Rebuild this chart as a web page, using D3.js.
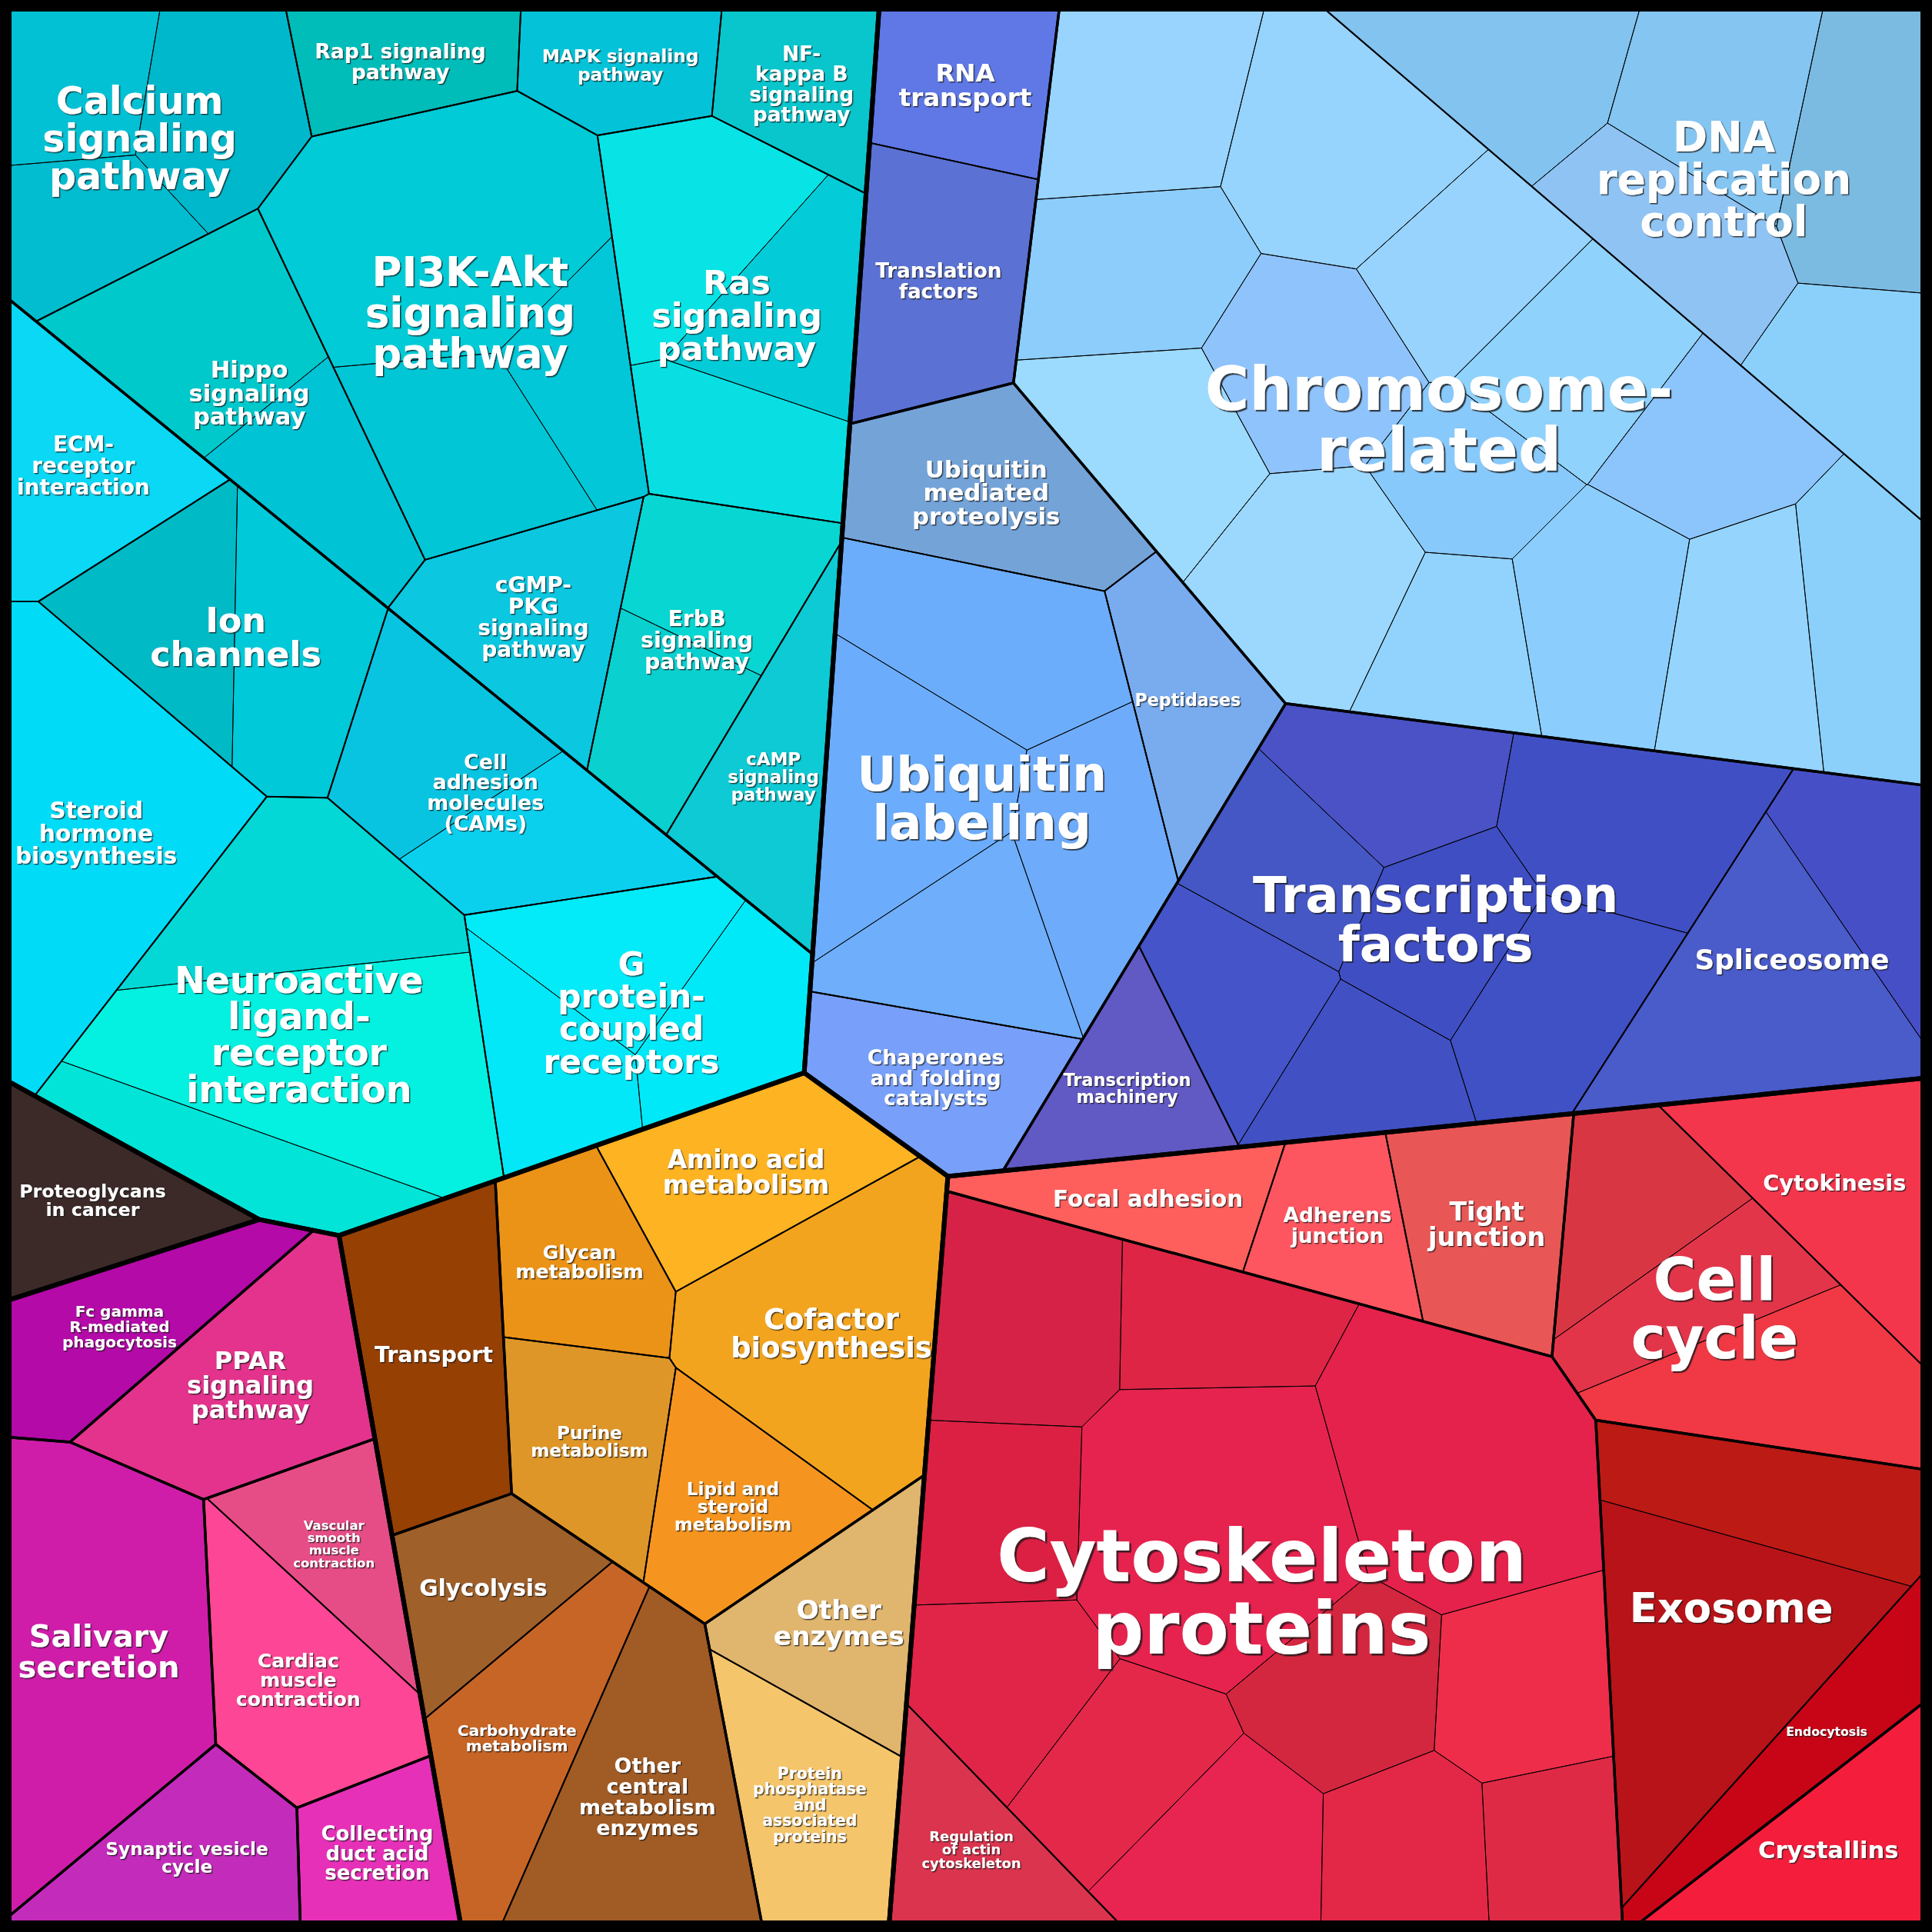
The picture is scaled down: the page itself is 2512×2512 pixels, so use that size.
<!DOCTYPE html>
<html>
<head>
<meta charset="utf-8">
<script src="https://cdn.jsdelivr.net/npm/d3@7"></script>
<style>
html,body{margin:0;padding:0;background:#000;}
svg{display:block;}
</style>
</head>
<body>
<svg id="chart" width="2512" height="2512"></svg>
<script>
// ---------------- DATA ----------------
// Category hierarchy: [name, parent]
const GROUPS = [
  ["Signaling", "root"],
  ["Signal transduction", "Signaling"],
  ["Signaling molecules", "Signaling"],
  ["Organismal systems", "root"],
  ["Muscle contraction", "Organismal systems"],
  ["Metabolism", "root"],
  ["Biosynthesis", "Metabolism"],
  ["Central metabolism", "Metabolism"],
  ["Enzymes", "Metabolism"],
  ["Genetic information", "root"],
  ["Translation", "Genetic information"],
  ["Folding and degradation", "Genetic information"],
  ["Replication", "Genetic information"],
  ["Transcription", "Genetic information"],
  ["Cellular processes", "root"],
  ["Cell junctions", "Cellular processes"],
  ["Cytoskeleton", "Cellular processes"],
  ["Cell growth", "Cellular processes"],
  ["Vesicles", "Cellular processes"]
];

// Pathways (labelled cells): [label, parent]
const PATHWAYS = [
  ["Calcium\nsignaling\npathway", "Signal transduction"],
  ["Rap1 signaling\npathway", "Signal transduction"],
  ["MAPK signaling\npathway", "Signal transduction"],
  ["NF-\nkappa B\nsignaling\npathway", "Signal transduction"],
  ["PI3K-Akt\nsignaling\npathway", "Signal transduction"],
  ["Ras\nsignaling\npathway", "Signal transduction"],
  ["Hippo\nsignaling\npathway", "Signal transduction"],
  ["cGMP-\nPKG\nsignaling\npathway", "Signal transduction"],
  ["ErbB\nsignaling\npathway", "Signal transduction"],
  ["cAMP\nsignaling\npathway", "Signal transduction"],
  ["ECM-\nreceptor\ninteraction", "Signaling molecules"],
  ["Ion\nchannels", "Signaling molecules"],
  ["Steroid\nhormone\nbiosynthesis", "Signaling molecules"],
  ["Cell\nadhesion\nmolecules\n(CAMs)", "Signaling molecules"],
  ["Neuroactive\nligand-\nreceptor\ninteraction", "Signaling molecules"],
  ["G\nprotein-\ncoupled\nreceptors", "Signaling molecules"],
  ["Proteoglycans\nin cancer", "root"],
  ["Fc gamma\nR-mediated\nphagocytosis", "Organismal systems"],
  ["PPAR\nsignaling\npathway", "Organismal systems"],
  ["Vascular\nsmooth\nmuscle\ncontraction", "Muscle contraction"],
  ["Cardiac\nmuscle\ncontraction", "Muscle contraction"],
  ["Salivary\nsecretion", "Organismal systems"],
  ["Synaptic vesicle\ncycle", "Organismal systems"],
  ["Collecting\nduct acid\nsecretion", "Organismal systems"],
  ["Transport", "Metabolism"],
  ["Glycan\nmetabolism", "Biosynthesis"],
  ["Amino acid\nmetabolism", "Biosynthesis"],
  ["Cofactor\nbiosynthesis", "Biosynthesis"],
  ["Purine\nmetabolism", "Biosynthesis"],
  ["Lipid and\nsteroid\nmetabolism", "Biosynthesis"],
  ["Glycolysis", "Central metabolism"],
  ["Carbohydrate\nmetabolism", "Central metabolism"],
  ["Other\ncentral\nmetabolism\nenzymes", "Central metabolism"],
  ["Other\nenzymes", "Enzymes"],
  ["Protein\nphosphatase\nand\nassociated\nproteins", "Enzymes"],
  ["RNA\ntransport", "Translation"],
  ["Translation\nfactors", "Translation"],
  ["Ubiquitin\nmediated\nproteolysis", "Folding and degradation"],
  ["Ubiquitin\nlabeling", "Folding and degradation"],
  ["Peptidases", "Folding and degradation"],
  ["Chaperones\nand folding\ncatalysts", "Folding and degradation"],
  ["Chromosome-\nrelated", "Replication"],
  ["DNA\nreplication\ncontrol", "Replication"],
  ["Transcription\nfactors", "Transcription"],
  ["Spliceosome", "Transcription"],
  ["Transcription\nmachinery", "Transcription"],
  ["Focal adhesion", "Cell junctions"],
  ["Adherens\njunction", "Cell junctions"],
  ["Tight\njunction", "Cell junctions"],
  ["Cytoskeleton\nproteins", "Cytoskeleton"],
  ["Regulation\nof actin\ncytoskeleton", "Cytoskeleton"],
  ["Cell\ncycle", "Cell growth"],
  ["Cytokinesis", "Cell growth"],
  ["Exosome", "Vesicles"],
  ["Endocytosis", "Vesicles"],
  ["Crystallins", "Cellular processes"]
];

// Protein-share values of each (sub)cell, per pathway (same order as PATHWAYS)
const CELL_VALUES = [
  [13.7, 19.3, 14.3], [15.3], [14.5], [15.2], [46.1, 14.4, 21.3], [21.7, 17.6, 16.5],
  [24.6, 16.3], [23.6], [17.0, 14.4], [21.0],
  [23.1], [18.9, 21.3], [46.1], [19.6, 17.7], [25.1, 44.3, 16.2], [15.8, 16.7, 16.1],
  [17.9],
  [20.7], [28.5], [15.0], [25.4], [48.8], [20.5], [13.9],
  [28.9], [18.4], [23.8], [39.7], [19.5], [20.0], [17.1], [24.7], [33.4], [20.7], [22.4],
  [17.6], [26.4], [27.1], [25.7, 21.8, 26.4, 19.3], [18.8], [20.7],
  [23.4, 28.7, 22.0, 22.0, 18.5, 20.4, 15.4, 18.4, 22.0, 21.7, 22.4, 15.7, 24.9, 21.7],
  [20.5, 20.5, 23.0, 19.4, 17.2],
  [17.5, 25.5, 15.6, 16.7, 20.8, 14.9, 17.0], [15.2, 34.5], [16.4],
  [15.4], [14.7], [22.5],
  [24.9, 17.0, 43.0, 45.9, 18.6, 18.8, 18.5, 19.2, 19.8, 19.9, 16.3, 13.4], [16.5],
  [16.7, 15.4, 24.3], [25.0], [21.2, 41.1], [15.6], [20.4]
];

// Layout seed hints for the Voronoi treemap sub-cells (reference units, 0-1568)
const CELL_SEEDS = [
  [[62,72],[180,92],[72,192]], [[333,50]], [[500,62]], [[650,78]],
  [[362,188],[480,305],[378,370]], [[568,162],[650,235],[606,365]],
  [[168,277],[272,405]], [[417,500]], [[598,465],[538,590]], [[629,632]],
  [[60,408]], [[145,510],[250,512]], [[78,682]], [[350,600],[420,706]],
  [[236.5,735],[250,860],[216,955]], [[445,850],[505,770],[596,835]],
  [[75,974]],
  [[92,1085]], [[205,1115]], [[271,1254]], [[250,1378]], [[85,1335]], [[148,1508]], [[302,1505]],
  [[355,1108]], [[480,1025]], [[610,948]], [[668,1085]], [[480,1175]], [[600,1230]],
  [[400,1288]], [[435,1420]], [[540,1455]], [[665,1305]], [[672,1475]],
  [[785,68]], [[767,238]], [[810,395]], [[814,502],[891,670],[730,640],[776,710]], [[965,560]], [[745,870]],
  [[915,62],[1090,105],[925,205],[1060,290],[1185,210],[1265,290],[1190,390],[1370,370],[1515,510],[1420,520],[1300,500],[1180,520],[1075,470],[935,358]],
  [[1225,62],[1395,110],[1512,135],[1340,200],[1498,310]],
  [[1125,628],[1310,662],[1052,705],[1172,757],[1268,818],[1110,868],[1000,800]],
  [[1520,708],[1400,790]], [[916,883]],
  [[903,965]], [[1081,991]], [[1203,1003]],
  [[825,1075],[985,1078],[1185,1185],[988,1240],[818,1235],[822,1362],[922,1438],[985,1500],[1090,1362],[1236,1370],[1145,1503],[1262,1497]],
  [[793,1502]],
  [[1322,965],[1393,1065],[1430,1155]], [[1489,961]], [[1428,1215],[1390,1352]], [[1450,1438]], [[1484,1502]]
];

// Site positions of groups / pathways in the power diagram (reference units)
const SEED_OVERRIDES = [
  ["Signaling",340,440],["Genetic information",1150,497],["Metabolism",618,1235],
  ["Cellular processes",1229,1283],["Organismal systems",165,1315],["Proteoglycans\nin cancer",52,963],
  ["Signal transduction",430,230],["Signaling molecules",104,630],
  ["Calcium\nsignaling\npathway",120,73.5],["Rap1 signaling\npathway",319.6,32.8],
  ["MAPK signaling\npathway",491.6,40.5],["NF-\nkappa B\nsignaling\npathway",618.6,52.3],
  ["PI3K-Akt\nsignaling\npathway",370,260],["Ras\nsignaling\npathway",525.1,237.7],
  ["Hippo\nsignaling\npathway",245,319.5],["cGMP-\nPKG\nsignaling\npathway",427.6,459.9],
  ["ErbB\nsignaling\npathway",489.4,472.7],["cAMP\nsignaling\npathway",639.4,562.4],
  ["ECM-\nreceptor\ninteraction",78,331],["Ion\nchannels",206,532],
  ["Steroid\nhormone\nbiosynthesis",78,682],["Cell\nadhesion\nmolecules\n(CAMs)",367.2,583.6],
  ["Neuroactive\nligand-\nreceptor\ninteraction",201,777.5],["G\nprotein-\ncoupled\nreceptors",392.3,748.6],
  ["Fc gamma\nR-mediated\nphagocytosis",105.6,1010.7],["PPAR\nsignaling\npathway",180.3,1096.6],
  ["Muscle contraction",260,1321],["Salivary\nsecretion",80,1330],
  ["Synaptic vesicle\ncycle",169,1437],["Collecting\nduct acid\nsecretion",303.7,1433],
  ["Vascular\nsmooth\nmuscle\ncontraction",271,1254],["Cardiac\nmuscle\ncontraction",179,1354],
  ["Transport",355,1108],["Biosynthesis",585,1096],["Central metabolism",430.8,1324.7],["Enzymes",704.7,1272.6],
  ["Glycan\nmetabolism",480,1025],["Amino acid\nmetabolism",610,954],["Cofactor\nbiosynthesis",658.8,1042.2],
  ["Purine\nmetabolism",461,1175],["Lipid and\nsteroid\nmetabolism",552.8,1188.9],
  ["Glycolysis",390,1280],["Carbohydrate\nmetabolism",482,1390],["Other\ncentral\nmetabolism\nenzymes",562,1425],
  ["Other\nenzymes",720,1300],["Protein\nphosphatase\nand\nassociated\nproteins",622,1475],
  ["Translation",770,170],["Folding and degradation",882.5,620],["Replication",1331.5,238.8],["Transcription",1253.9,844.7],
  ["RNA\ntransport",785,68],["Translation\nfactors",748,238],
  ["Ubiquitin\nmediated\nproteolysis",810,395],["Ubiquitin\nlabeling",759,645],
  ["Peptidases",962,593.4],["Chaperones\nand folding\ncatalysts",720.5,865],
  ["Chromosome-\nrelated",1150,350],["DNA\nreplication\ncontrol",1347,120],
  ["Transcription\nfactors",1150,700],["Spliceosome",1430,880],["Transcription\nmachinery",920,815],
  ["Cell junctions",1000,990],["Cytoskeleton",918,1290],["Cell growth",1313,1018],["Vesicles",1275,1271],["Crystallins",1430,1471],
  ["Focal adhesion",911,935],["Adherens\njunction",1081,991],["Tight\njunction",1201,967],
  ["Cytoskeleton\nproteins",1043,1260],["Regulation\nof actin\ncytoskeleton",793,1502],
  ["Cell\ncycle",1380,1070],["Cytokinesis",1510,938],
  ["Exosome",1395,1290],["Endocytosis",1495,1380]
];

// Cell colours
const CELL_COLORS = [
  ["#03c1d4","#00b8cc","#02bccf"], ["#00bdb9"], ["#04c3d8"], ["#09c6cc"],
  ["#00cbd6","#01c7d8","#00c6d6"], ["#08e3e6","#03ccd8","#09dfe2"],
  ["#00c9cc","#00c3d5"], ["#0bc7e0"], ["#08d6d2","#0ad0cf"], ["#0dcad4"],
  ["#0ad8f5"], ["#00bac6","#00c9d9"], ["#00dcf8"], ["#09c4e1","#0ad0ee"],
  ["#03d8d6","#04f0e0","#02e4d8"], ["#02e8f8","#03eaf8","#00e9f9"],
  ["#3c2a29"],
  ["#b30aa8"], ["#e3338d"], ["#e64d87"], ["#fd4695"], ["#cf1daa"], ["#c32bbb"], ["#e630b8"],
  ["#964004"], ["#eb9317"], ["#fdb322"], ["#f3a41e"], ["#df9628"], ["#f5951f"],
  ["#a0602a"], ["#c76526"], ["#a15b24"], ["#e0b56e"], ["#f5c56b"],
  ["#5f78e6"], ["#5b72d4"], ["#74a3d8"], ["#6cadfb","#6eabfa","#6badfc","#6eaefa"], ["#78acee"], ["#78a0fb"],
  ["#98d4fe","#96d3fd","#8ccdfc","#8fc3fb","#97d3fd","#8fd2fc","#88c9fb","#8cc4fc","#8ad0fb","#95d4fd","#8bcdfc","#92d3fd","#9cd8fe","#9ddbfe"],
  ["#83c3f0","#84c5f1","#7bbbe2","#8ec3f3","#8bd0fb"],
  ["#4a52c6","#4050c4","#4457c4","#3f4ec2","#4050c5","#4151c4","#4554c8"],
  ["#474fc6","#4a5bca"], ["#6159c4"],
  ["#fe5f5c"], ["#fe5660"], ["#e95656"],
  ["#d62246","#de2545","#e5224c","#e6234e","#dc2044","#e02548","#e3284a","#e82450","#d3263f","#ee2d4a","#e22846","#df2a46"],
  ["#da344e"],
  ["#d93644","#e3354a","#f03944"], ["#f4364d"], ["#bb1a15","#b71318"], ["#c80516"], ["#f41e3c"]
];

// Label font sizes (px), same order as PATHWAYS
const LABEL_SIZES = [
  49, 26.6, 23.2, 26.4, 53, 43, 30.5, 28, 28.3, 23,
  27.9, 44.4, 29.6, 26.8, 47.4, 42.3,
  23.7,
  20, 32, 16.4, 25.1, 39.9, 23.2, 25.9,
  28.4, 25.2, 32.8, 36.8, 23.1, 23.1, 29.6, 20.1, 26.9, 34.4, 20.4,
  32.4, 26.1, 30.7, 62.8, 22.2, 26.6, 78.3, 54.7, 64.1, 35.7, 22.4,
  29.4, 26.3, 33.2, 93.6, 17.9, 76.2, 28.7, 52.8, 15.7, 30.6
];

// ---------------- BUILD HIERARCHY ----------------
const treeRoot = { name: "root", children: [] };
const byName = new Map([["root", treeRoot]]);
GROUPS.forEach(([name, parent]) => {
  const o = { name, children: [] };
  byName.get(parent).children.push(o);
  byName.set(name, o);
});
PATHWAYS.forEach(([label, parent], i) => {
  const vals = CELL_VALUES[i];
  const o = { name: label, label, isPathway: true, fontSize: LABEL_SIZES[i] };
  if (vals.length === 1) {
    o.value = vals[0]; o.seed = CELL_SEEDS[i][0]; o.color = CELL_COLORS[i][0];
  } else {
    o.children = vals.map((v, k) => ({ name: label + "/" + k, value: v, seed: CELL_SEEDS[i][k], color: CELL_COLORS[i][k] }));
  }
  byName.get(parent).children.push(o);
});

const W = 2512, H = 2512;
const sx = d3.scaleLinear().domain([0, 1568]).range([0, W]);
const sy = d3.scaleLinear().domain([0, 1568]).range([0, H]);
const overrides = new Map(SEED_OVERRIDES.map(([n, x, y]) => [n, [x, y]]));

const hroot = d3.hierarchy(treeRoot).sum(d => d.children ? 0 : d.value);
hroot.eachAfter(n => {
  if (n.children) {
    let a = 0, b = 0;
    n.children.forEach(c => { a += c.value * c.hint[0]; b += c.value * c.hint[1]; });
    n.hint = [a / n.value, b / n.value];
  } else {
    n.hint = [sx(n.data.seed[0]), sy(n.data.seed[1])];
  }
});
hroot.each(n => {
  const o = overrides.get(n.data.name);
  n.seed = o ? [sx(o[0]), sy(o[1])] : n.hint;
});

// ---------------- POWER-DIAGRAM VORONOI TREEMAP ----------------
function clipHalf(poly, a, b, c, lab) {
  const out = [], n = poly.length;
  for (let k = 0; k < n; k++) {
    const P = poly[k], Q = poly[(k + 1) % n];
    const fp = a * P[0] + b * P[1] - c, fq = a * Q[0] + b * Q[1] - c;
    if (fp <= 0) {
      out.push(P);
      if (fq > 0) { const t = fp / (fp - fq); out.push([P[0] + t * (Q[0] - P[0]), P[1] + t * (Q[1] - P[1]), lab]); }
    } else if (fq <= 0) {
      const t = fp / (fp - fq); out.push([P[0] + t * (Q[0] - P[0]), P[1] + t * (Q[1] - P[1]), P[2]]);
    }
  }
  return out;
}
function powerCell(base, S, Wt, i) {
  let cell = base;
  const si = S[i], ni = si[0] * si[0] + si[1] * si[1];
  for (let j = 0; j < S.length; j++) {
    if (j === i) continue;
    const sj = S[j];
    const a = 2 * (sj[0] - si[0]), b = 2 * (sj[1] - si[1]);
    const c = (sj[0] * sj[0] + sj[1] * sj[1]) - ni - Wt[j] + Wt[i];
    cell = clipHalf(cell, a, b, c, j);
    if (cell.length < 3) return [];
  }
  return cell;
}
function powerLayout(parent, S, T) {
  const n = S.length;
  if (n === 1) return [parent.map(p => [p[0], p[1]])];
  const base = parent.map(p => [p[0], p[1], -1]);
  const Wt = new Array(n).fill(0);
  const D = S.map(si => S.map(sj => Math.hypot(sj[0] - si[0], sj[1] - si[1]) || 1e-6));
  const dmin = D.map((row, i) => d3.min(row.filter((_, j) => j !== i)));
  let best = null, bestErr = Infinity;
  const step = 0.5;
  for (let it = 0; it < 1500; it++) {
    const cells = S.map((_, i) => powerCell(base, S, Wt, i));
    const areas = cells.map(c => c.length >= 3 ? Math.abs(d3.polygonArea(c)) : 0);
    let err = 0;
    for (let i = 0; i < n; i++) err = Math.max(err, Math.abs(areas[i] - T[i]) / T[i]);
    if (err < bestErr) { bestErr = err; best = cells; }
    if (err < 0.001) break;
    const dW = new Array(n).fill(0);
    for (let i = 0; i < n; i++) {
      const c = cells[i];
      let deriv = 0;
      for (let k = 0; k < c.length; k++) {
        const j = c[k][2];
        if (j < 0) continue;
        const q = c[(k + 1) % c.length];
        deriv += Math.hypot(q[0] - c[k][0], q[1] - c[k][1]) / (2 * D[i][j]);
      }
      let d = deriv < 1e-9 ? 0.1 * dmin[i] * dmin[i] : (T[i] - areas[i]) / deriv;
      const cap = dmin[i] * dmin[i];
      d = Math.max(-cap, Math.min(cap, d));
      dW[i] = d * step;
    }
    for (let i = 0; i < n; i++) Wt[i] += dW[i];
  }
  return best.map(c => c.map(p => [p[0], p[1]]));
}

const frame = [[sx(7.5), sy(7.5)], [sx(1560.5), sy(7.5)], [sx(1560.5), sy(1560.5)], [sx(7.5), sy(1560.5)]];
hroot.poly = frame;
hroot.eachBefore(n => {
  if (!n.children) return;
  if (!n.poly || n.poly.length < 3) { n.children.forEach(c => c.poly = []); return; }
  const A = Math.abs(d3.polygonArea(n.poly));
  const targets = n.children.map(c => c.value / n.value * A);
  const cells = powerLayout(n.poly, n.children.map(c => c.seed), targets);
  n.children.forEach((c, i) => c.poly = cells[i]);
});

// ---------------- RENDER ----------------
const svg = d3.select("#chart");
const defs = svg.append("defs");
svg.append("rect").attr("width", W).attr("height", H).attr("fill", "#000");
const lineGen = d3.line().curve(d3.curveLinearClosed);
const SW = [0, 6, 3.4, 1.9, 0.9, 0.9];

svg.append("g").selectAll("path")
  .data(hroot.leaves().filter(d => d.poly && d.poly.length > 2))
  .join("path")
  .attr("d", d => lineGen(d.poly))
  .attr("fill", d => d.data.color);

const strokeNodes = hroot.descendants().filter(d => d.depth > 0 && d.poly && d.poly.length > 2)
  .sort((a, b) => b.depth - a.depth);
svg.append("g").selectAll("path")
  .data(strokeNodes)
  .join("path")
  .attr("d", d => lineGen(d.poly))
  .attr("fill", "none")
  .attr("stroke", "#000")
  .attr("stroke-linejoin", "round")
  .attr("stroke-width", d => SW[d.depth]);

// ---------------- LABELS ----------------
const FONT = "'DejaVu Sans', 'Liberation Sans', sans-serif";
const measure = svg.append("text").attr("font-family", FONT).attr("font-weight", "bold")
  .attr("font-size", 100).attr("x", -5000).attr("y", -5000);
function w100(s) { measure.text(s); return measure.node().getComputedTextLength(); }

// Label at the cell centroid; if the text box does not fit there, slide it toward
// the position where it fits best (largest margin inside the convex cell).
function placeLabel(poly, hw, hh) {
  const [gx, gy] = d3.polygonCentroid(poly);
  const edges = [];
  poly.forEach((p, k) => {
    const q = poly[(k + 1) % poly.length];
    let nx = -(q[1] - p[1]), ny = q[0] - p[0];
    const L = Math.hypot(nx, ny);
    if (L < 1e-6) return;
    nx /= L; ny /= L;
    if (nx * (gx - p[0]) + ny * (gy - p[1]) < 0) { nx = -nx; ny = -ny; }
    edges.push([p[0], p[1], nx, ny]);
  });
  const margin = (x, y) => {
    let m = Infinity;
    for (const [px, py, nx, ny] of edges) {
      const d = nx * (x - px) + ny * (y - py) - Math.abs(nx) * hw - Math.abs(ny) * hh;
      if (d < m) m = d;
    }
    return m;
  };
  if (margin(gx, gy) >= 0) return [gx, gy];
  const f = (x, y) => margin(x, y) - 0.01 * Math.hypot(x - gx, y - gy);
  const xs = poly.map(p => p[0]), ys = poly.map(p => p[1]);
  const x0 = d3.min(xs), x1 = d3.max(xs), y0 = d3.min(ys), y1 = d3.max(ys);
  let bx = gx, by = gy, bv = f(gx, gy);
  const N = 30;
  for (let i = 0; i <= N; i++) for (let j = 0; j <= N; j++) {
    const x = x0 + (x1 - x0) * i / N, y = y0 + (y1 - y0) * j / N;
    const v = f(x, y);
    if (v > bv) { bv = v; bx = x; by = y; }
  }
  let step = Math.max(x1 - x0, y1 - y0) / N;
  while (step > 0.25) {
    let moved = false;
    for (const [dx, dy] of [[1,0],[-1,0],[0,1],[0,-1],[1,1],[1,-1],[-1,1],[-1,-1]]) {
      const x = bx + dx * step, y = by + dy * step, v = f(x, y);
      if (v > bv) { bv = v; bx = x; by = y; moved = true; }
    }
    if (!moved) step /= 2;
  }
  if (margin(bx, by) < 0) return [bx, by];
  // closest fitting point on the segment centroid -> best
  let lo = 0, hi = 1;
  for (let it = 0; it < 30; it++) {
    const mid = (lo + hi) / 2;
    if (margin(gx + (bx - gx) * mid, gy + (by - gy) * mid) >= 0) hi = mid; else lo = mid;
  }
  return [gx + (bx - gx) * hi, gy + (by - gy) * hi];
}

const shadowIds = new Set();
function shadowFilter(off) {
  const key = Math.round(off * 10);
  const id = "ds" + key;
  if (!shadowIds.has(id)) {
    shadowIds.add(id);
    defs.append("filter").attr("id", id).attr("x", "-10%").attr("y", "-10%").attr("width", "130%").attr("height", "130%")
      .append("feDropShadow").attr("dx", key / 10).attr("dy", key / 10).attr("stdDeviation", 0.4)
      .attr("flood-color", "#151515").attr("flood-opacity", 0.8);
  }
  return "url(#" + id + ")";
}

const labelData = [];
hroot.descendants().filter(d => d.data.isPathway && d.poly && d.poly.length > 2).forEach(nd => {
  const lines = nd.data.label.split("\n");
  const fs = nd.data.fontSize;
  const hw = d3.max(lines, w100) / 100 * fs / 2;
  const hh = lines.length * fs * 0.5;
  const [cx, cy] = placeLabel(nd.poly, hw, hh);
  labelData.push({ lines, fs, cx, cy });
});
measure.remove();

const labelG = svg.append("g").attr("font-family", FONT).attr("font-weight", "bold").attr("text-anchor", "middle");
labelData.forEach(L => {
  const off = Math.min(3, Math.max(1.4, L.fs * 0.028));
  const n = L.lines.length;
  const t = labelG.append("text").attr("font-size", L.fs).attr("fill", "#ffffff")
    .attr("filter", shadowFilter(off));
  L.lines.forEach((ln, k) => {
    t.append("tspan").attr("x", L.cx)
      .attr("y", L.cy + (k - (n - 1) / 2) * L.fs * 1.0 + 0.36 * L.fs)
      .text(ln);
  });
});
</script>
</body>
</html>
